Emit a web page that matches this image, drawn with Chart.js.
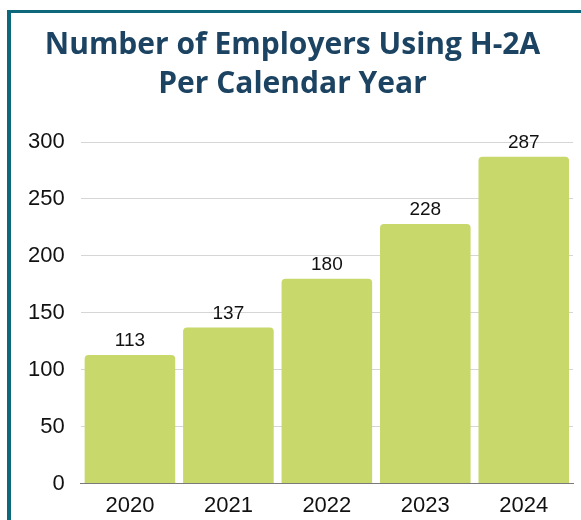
<!DOCTYPE html>
<html>
<head>
<meta charset="utf-8">
<script src="https://cdn.jsdelivr.net/npm/chart.js@4.4.1/dist/chart.umd.min.js"></script>
<style>
    html, body { margin: 0; padding: 0; background: #fff; }
    #wrap { position: relative; width: 581px; height: 520px; overflow: hidden; }
    #frame {
        position: absolute; left: 7px; top: 10px; width: 700px; height: 700px;
        border-top: 3px solid #0e687c; border-left: 4px solid #0e687c;
        pointer-events: none;
    }
    canvas { position: absolute; left: 0; top: 0; }
</style>
</head>
<body>
<div id="wrap">
    <canvas id="chart" width="581" height="520"></canvas>
    <div id="frame"></div>
</div>
<script>
'use strict';

const years = ['2020', '2021', '2022', '2023', '2024'];
const employers = [113, 137, 180, 228, 287];
const yTicks = [0, 50, 100, 150, 200, 250, 300];
const titleLines = ['Number of Employers Using H-2A', 'Per Calendar Year'];

const COLORS = {
    bar: '#c8d86a',
    title: '#1c4462',
    text: '#111111',
    grid: '#d6d6d6',
    axis: '#7a7a7a',
};

const FONT = '"Liberation Sans", Arial, sans-serif';

// Valor em cima de cada barra
const valueLabels = {
    id: 'valueLabels',
    afterDatasetsDraw(chart) {
        const { ctx } = chart;
        const meta = chart.getDatasetMeta(0);
        ctx.save();
        ctx.font = '19px ' + FONT;
        ctx.fillStyle = COLORS.text;
        ctx.textAlign = 'center';
        ctx.textBaseline = 'alphabetic';
        meta.data.forEach((bar, i) => {
            ctx.fillText(String(employers[i]), bar.x, bar.y - 9);
        });
        ctx.restore();
    }
};

const ctx = document.getElementById('chart').getContext('2d');

new Chart(ctx, {
    type: 'bar',
    data: {
        labels: years,
        datasets: [{
            data: employers,
            backgroundColor: COLORS.bar,
            borderWidth: 0,
            borderRadius: 4,
            borderSkipped: 'start',
            barPercentage: 0.92,
            categoryPercentage: 1,
        }]
    },
    options: {
        responsive: false,
        animation: false,
        layout: { padding: { top: 26, left: 12, right: 8, bottom: -8 } },
        plugins: {
            legend: { display: false },
            tooltip: { enabled: false },
            title: {
                display: true,
                text: titleLines,
                color: COLORS.title,
                font: { family: '"Open Sans", sans-serif', size: 30, weight: 'bold', lineHeight: 1.3 },
                padding: { top: 0, bottom: 38 },
            },
        },
        scales: {
            x: {
                grid: { display: false, drawTicks: false },
                border: { display: true, color: COLORS.axis, width: 1 },
                ticks: {
                    color: COLORS.text,
                    padding: 9,
                    font: { family: FONT, size: 22 },
                },
            },
            y: {
                min: 0,
                max: 300,
                afterBuildTicks: axis => { axis.ticks = yTicks.map(v => ({ value: v })); },
                grid: { color: COLORS.grid, drawTicks: false },
                border: { display: false },
                ticks: {
                    color: COLORS.text,
                    padding: 16,
                    font: { family: FONT, size: 22 },
                },
            },
        },
    },
    plugins: [valueLabels],
});
</script>
</body>
</html>
